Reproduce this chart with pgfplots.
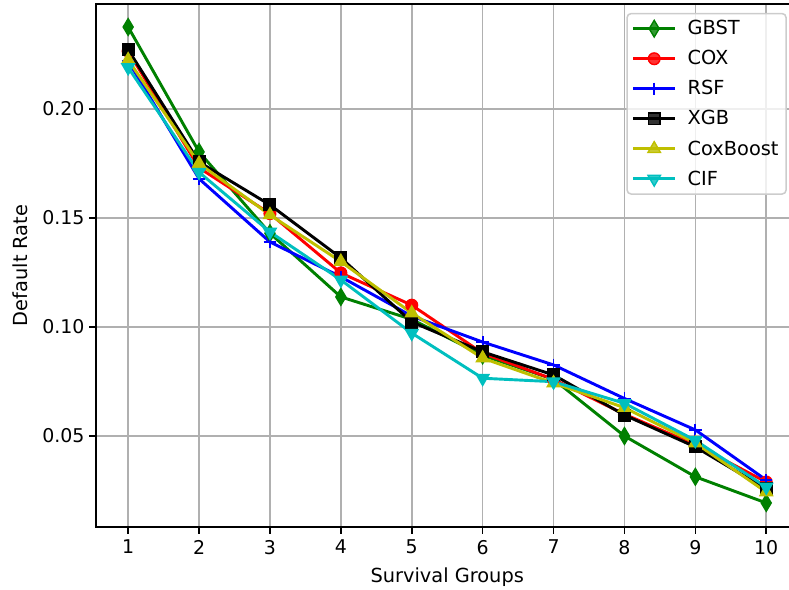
\documentclass[border=0pt]{standalone}
\usepackage{fontspec}
\setmainfont{DejaVu Sans}
\usepackage{pgfplots}
\pgfplotsset{compat=1.18}
\usetikzlibrary{plotmarks}
\definecolor{mgreen}{rgb}{0,0.5,0}
\definecolor{my}{rgb}{0.75,0.75,0}
\definecolor{mc}{rgb}{0,0.75,0.75}
\definecolor{gridc}{HTML}{B0B0B0}
\begin{document}
\begin{tikzpicture}[x=1bp,y=1bp]
\begin{axis}[
  scale only axis,
  width=505.4bp, height=376.6bp,
  xmin=0.55, xmax=10.45, ymin=0.0083, ymax=0.2482,
  xtick={1,2,...,10},
  ytick={0.05,0.10,0.15,0.20},
  yticklabel style={/pgf/number format/.cd,fixed,fixed zerofill,precision=2},
  /pgf/number format/assume math mode=true,
  tick label style={font=\fontsize{13.7}{16}\selectfont},
  xticklabel style={yshift=-1bp},
  tick align=outside, tick pos=left,
  major tick length=4.9bp,
  every tick/.style={black, line width=1.1bp},
  grid=major,
  major grid style={gridc, line width=1.1bp},
  axis line style={line width=1.1bp},
  xlabel={Survival Groups}, ylabel={Default Rate},
  every axis x label/.style={at={(axis description cs:0.5,-0.0956)}, anchor=center, font=\fontsize{14}{17}\selectfont},
  every axis y label/.style={at={(axis description cs:-0.1085,0.5)}, rotate=90, anchor=center, font=\fontsize{14}{17}\selectfont},
  legend style={at={(axis description cs:0.984,0.983)}, anchor=north east,
    draw=black!20, line width=1.1bp, rounded corners=3bp, fill=white, fill opacity=0.8, text opacity=1,
    font=\fontsize{14}{17}\selectfont, row sep=5.8bp, inner xsep=3.5bp, inner ysep=3bp,
    cells={anchor=west}},
  legend image code/.code={
    \draw[mark repeat=2,mark phase=2] plot coordinates {(0bp,0bp) (15bp,0bp) (30bp,0bp)};
    \path (36bp,0bp);},
  every axis plot/.append style={line width=2.1bp},
]
\addplot[mgreen, mark=diamond*, mark size=6bp, mark options={xscale=0.8, line width=1bp}] coordinates {
(1,0.2376) (2,0.1803) (3,0.143) (4,0.1138) (5,0.1035) (6,0.087) (7,0.076) (8,0.050) (9,0.0313) (10,0.0193)};
\addlegendentry{GBST}
\addplot[red, mark=*, mark size=4.2bp, mark options={line width=1bp}] coordinates {
(1,0.2265) (2,0.173) (3,0.152) (4,0.1248) (5,0.110) (6,0.088) (7,0.076) (8,0.060) (9,0.046) (10,0.0289)};
\addlegendentry{COX}
\addplot[blue, mark=+, mark size=4.5bp, mark options={line width=1.3bp}] coordinates {
(1,0.222) (2,0.168) (3,0.139) (4,0.123) (5,0.105) (6,0.0931) (7,0.0826) (8,0.0672) (9,0.0528) (10,0.0298)};
\addlegendentry{RSF}
\addplot[black, mark=square*, mark size=4.2bp, mark options={line width=1bp}] coordinates {
(1,0.2272) (2,0.1757) (3,0.156) (4,0.1317) (5,0.1023) (6,0.0886) (7,0.078) (8,0.0596) (9,0.045) (10,0.0257)};
\addlegendentry{XGB}
\addplot[my, mark=triangle*, mark size=5.2bp, mark options={line width=1bp}] coordinates {
(1,0.2225) (2,0.175) (3,0.1514) (4,0.130) (5,0.1064) (6,0.0857) (7,0.0743) (8,0.063) (9,0.0468) (10,0.0243)};
\addlegendentry{CoxBoost}
\addplot[mc, mark=triangle*, mark size=5.2bp, mark options={rotate=180, line width=1bp}] coordinates {
(1,0.219) (2,0.171) (3,0.1436) (4,0.1216) (5,0.0972) (6,0.0765) (7,0.0749) (8,0.065) (9,0.048) (10,0.0266)};
\addlegendentry{CIF}
\end{axis}
\pgfresetboundingbox
\path[use as bounding box] (-69.3bp,-45.4bp) rectangle (498.8bp,379.4bp);
\end{tikzpicture}
\end{document}
